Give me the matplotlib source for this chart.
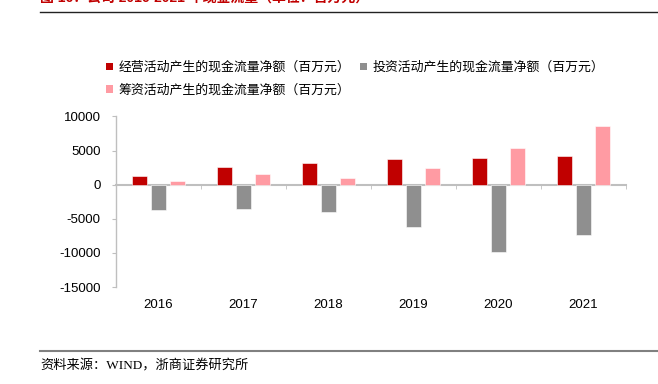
import matplotlib
matplotlib.use("Agg")
import matplotlib.pyplot as plt
import numpy as np
from matplotlib.patches import Patch
from matplotlib.lines import Line2D

years = ["2016", "2017", "2018", "2019", "2020", "2021"]
operating = [1250, 2600, 3130, 3720, 3870, 4260]
investing = [-3660, -3630, -4030, -6180, -9800, -7350]
financing = [600, 1510, 930, 2400, 5380, 8570]
series_names = ["经营活动产生的现金流量净额（百万元）",
                "投资活动产生的现金流量净额（百万元）",
                "筹资活动产生的现金流量净额（百万元）"]
colors = ["#C00000", "#8F8F8F", "#FF9BA3"]
yticks = [10000, 5000, 0, -5000, -10000, -15000]

cjk = ["Noto Sans CJK SC", "DejaVu Sans"]
plt.rcParams["font.family"] = ["Liberation Sans", "Noto Sans CJK SC", "DejaVu Sans"]

fig = plt.figure(figsize=(6.58, 3.84), dpi=100)
ax = fig.add_axes([116/658, 1-287/384, (626-116)/658, (287-116.5)/384])

x = np.arange(len(years))
w = 15/85
step = 19/85
for i, (vals, c) in enumerate(zip([operating, investing, financing], colors)):
    ax.bar(x + (i-1)*step, vals, width=w, color=c, edgecolor="white", linewidth=0.4, zorder=3)

ax.set_xlim(-0.5, len(years)-0.5)
ax.set_ylim(-15000, 10000)
ax.set_yticks(yticks)
ax.set_yticklabels([str(v) for v in yticks], fontsize=9.5, color="black")

for s in ["top", "right"]:
    ax.spines[s].set_visible(False)
ax.spines["left"].set_color("#BFBFBF")
ax.spines["left"].set_linewidth(1)
ax.spines["bottom"].set_position(("data", 0))
ax.spines["bottom"].set_color("#BFBFBF")
ax.spines["bottom"].set_linewidth(1.5)
ax.tick_params(axis="y", direction="out", length=3, color="#BFBFBF", pad=8)

ax.set_xticks(x)
ax.set_xticklabels(years, fontsize=9.5)
ax.tick_params(axis="x", which="major", length=0, pad=82)
ax.set_xticks(np.arange(len(years)+1) - 0.5, minor=True)
ax.tick_params(axis="x", which="minor", direction="out", length=3, color="#BFBFBF")

handles = [Patch(facecolor=c, edgecolor="none") for c in colors]
order = [0, 2, 1]
leg = fig.legend([handles[i] for i in order], [series_names[i] for i in order],
                 ncol=2, loc="upper left", bbox_to_anchor=(106/658, 1-61/384),
                 frameon=False, handlelength=0.55, handleheight=0.55, handletextpad=0.4,
                 columnspacing=0.8, labelspacing=0.72, borderaxespad=0, borderpad=0,
                 prop={"family": cjk, "size": 9.3})

fig.text(40/658, 1-5/384, "图 16：公司 2016-2021 年现金流量（单位：百万元）",
         color="#C00000", fontsize=10, fontweight="bold", family=["Liberation Sans", "Noto Sans CJK SC"],
         va="bottom", ha="left")
fig.add_artist(Line2D([40/658, 657/658], [1-12/384, 1-12/384], color="#222222", linewidth=1.0))
fig.add_artist(Line2D([40/658, 657/658], [1-351/384, 1-351/384], color="#808080", linewidth=1.5))
fig.text(40/658, 1-366/384, "资料来源：WIND，浙商证券研究所", fontsize=9.5,
         family=["Liberation Serif", "Noto Sans CJK SC"], va="center", ha="left")

fig.savefig("out.png", dpi=100)
